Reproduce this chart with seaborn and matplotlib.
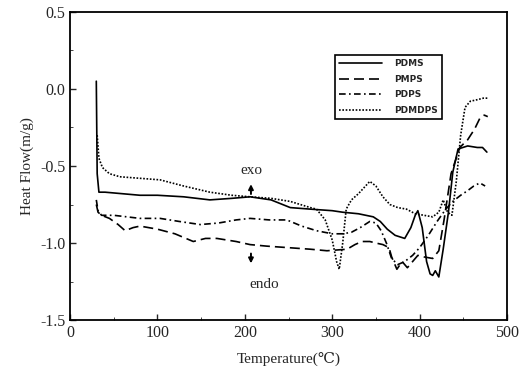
import numpy as np
import pandas as pd
import matplotlib
matplotlib.use("Agg")
import matplotlib.pyplot as plt
import seaborn as sns

# DSC curves
pdms_t = [30, 31, 33, 40, 60, 80, 100, 130, 160, 185, 206, 230, 252, 275, 300, 312, 330, 347, 355, 363,
          372, 383, 390, 395, 398, 403, 408, 412, 415, 418, 422, 427, 433, 438, 444, 455, 466, 472, 477]
pdms_v = [0.05, -0.55, -0.67, -0.67, -0.68, -0.69, -0.69, -0.70, -0.72, -0.71, -0.70, -0.72, -0.77, -0.78,
          -0.79, -0.80, -0.81, -0.83, -0.86, -0.91, -0.95, -0.97, -0.90, -0.82, -0.79, -0.90, -1.12, -1.20,
          -1.21, -1.18, -1.22, -1.04, -0.80, -0.54, -0.39, -0.37, -0.38, -0.38, -0.41]

pmps_t = [30, 32, 36, 45, 55, 63, 72, 80, 100, 120, 141, 155, 168, 190, 206, 225, 250, 275, 294, 317, 326,
          334, 343, 350, 358, 365, 368, 374, 380, 386, 392, 398, 405, 415, 422, 428, 436, 446, 455, 463, 469,
          474, 478]
pmps_v = [-0.75, -0.80, -0.82, -0.84, -0.88, -0.92, -0.90, -0.89, -0.91, -0.94, -0.99, -0.97, -0.97, -0.99,
          -1.01, -1.02, -1.03, -1.04, -1.05, -1.04, -1.01, -0.99, -0.99, -1.00, -1.01, -1.03, -1.09, -1.17,
          -1.12, -1.16, -1.12, -1.08, -1.09, -1.10, -1.05, -0.85, -0.55, -0.38, -0.33, -0.26, -0.19, -0.17, -0.18]

pdps_t = [30, 32, 36, 50, 65, 80, 103, 125, 149, 170, 190, 206, 228, 248, 265, 282, 300, 312, 322, 332, 343,
          350, 356, 362, 368, 375, 383, 392, 400, 410, 420, 430, 438, 447, 455, 462, 469, 475]
pdps_v = [-0.72, -0.79, -0.82, -0.82, -0.83, -0.84, -0.84, -0.86, -0.88, -0.87, -0.85, -0.84, -0.85, -0.85,
          -0.89, -0.92, -0.94, -0.94, -0.93, -0.90, -0.86, -0.87, -0.92, -1.00, -1.10, -1.14, -1.12, -1.08,
          -1.03, -0.95, -0.86, -0.78, -0.73, -0.69, -0.66, -0.63, -0.61, -0.63]

pdmdps_t = [31, 33, 37, 45, 57, 80, 103, 130, 160, 185, 206, 230, 252, 275, 282, 292, 300, 305, 308, 312,
            316, 322, 330, 343, 350, 358, 366, 375, 385, 395, 405, 415, 422, 427, 432, 437, 442, 447, 452, 458,
            466, 473, 478]
pdmdps_v = [-0.30, -0.45, -0.51, -0.55, -0.57, -0.58, -0.59, -0.63, -0.67, -0.69, -0.70, -0.71, -0.73,
            -0.77, -0.78, -0.85, -0.98, -1.12, -1.17, -1.00, -0.78, -0.72, -0.68, -0.60, -0.63, -0.70, -0.75,
            -0.77, -0.78, -0.81, -0.82, -0.83, -0.80, -0.72, -0.80, -0.82, -0.60, -0.30, -0.12, -0.08, -0.07,
            -0.06, -0.06]

series = [("PDMS", pdms_t, pdms_v, "-"),
          ("PMPS", pmps_t, pmps_v, (0, (6, 3))),
          ("PDPS", pdps_t, pdps_v, (0, (4, 2, 1, 2))),
          ("PDMDPS", pdmdps_t, pdmdps_v, (0, (1, 1)))]

sns.set_style("ticks")
plt.rcParams['font.family'] = ['Liberation Serif', 'DejaVu Serif']

fig = plt.figure(figsize=(5.27, 3.82), dpi=100)
ax = fig.add_axes([0.133, 0.162, 0.829, 0.807])

for name, t, v, ls in series:
    sns.lineplot(x=t, y=v, ax=ax, color='black', linestyle=ls, linewidth=1.2,
                 label=name, sort=False, estimator=None)

ax.set_xlim(0, 500)
ax.set_ylim(-1.5, 0.5)
ax.set_xticks([0, 100, 200, 300, 400, 500])
ax.set_xticks(np.arange(50, 500, 100), minor=True)
ax.set_yticks([-1.5, -1.0, -0.5, 0.0, 0.5])
ax.set_yticks([-1.25, -0.75, -0.25, 0.25], minor=True)
ax.set_yticklabels(['-1.5', '-1.0', '-0.5', '0.0', '0.5'])
ax.tick_params(direction='in', labelsize=11.5, length=4, width=1)
ax.tick_params(which='minor', direction='in', length=2)
for sp in ax.spines.values():
    sp.set_linewidth(1.3)
    sp.set_color('black')

ax.set_xlabel("Temperature(\u2103)", fontsize=11, labelpad=8)
ax.set_ylabel("Heat Flow(m/g)", fontsize=11)

ax.text(207, -0.53, "exo", fontsize=11, ha='center', va='center')
ax.annotate("", xy=(207, -0.60), xytext=(207, -0.70),
            arrowprops=dict(arrowstyle='-|>', color='black', lw=1.4, mutation_scale=7))
ax.annotate("", xy=(207, -1.15), xytext=(207, -1.05),
            arrowprops=dict(arrowstyle='-|>', color='black', lw=1.4, mutation_scale=7))
ax.text(222, -1.27, "endo", fontsize=11, ha='center', va='center')

leg = ax.legend(loc='upper left', bbox_to_anchor=(0.595, 0.875), fancybox=False, framealpha=1,
                edgecolor='black', handlelength=4.8, handletextpad=1.4, borderpad=0.45,
                labelspacing=0.75, prop={'family': 'DejaVu Sans', 'weight': 'bold', 'size': 6.5})
leg.get_frame().set_linewidth(1.2)

fig.savefig("out.png", dpi=100)
